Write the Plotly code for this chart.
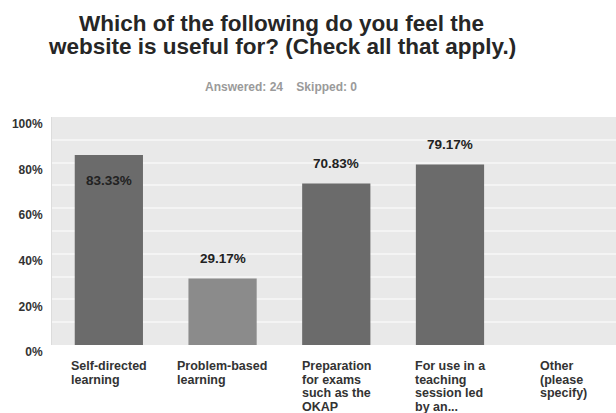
import plotly.graph_objects as go

categories = ["Self-directed<br>learning", "Problem-based<br>learning",
              "Preparation<br>for exams<br>such as the<br>OKAP",
              "For use in a<br>teaching<br>session led<br>by an...",
              "Other<br>(please<br>specify)"]
values = [83.33, 29.17, 70.83, 79.17, 0.0]
bar_colors = ["#6b6b6b", "#8b8b8b", "#6b6b6b", "#6b6b6b", "#6b6b6b"]
y_ticks = [0, 20, 40, 60, 80, 100]
y_tick_labels = ["0%", "20%", "40%", "60%", "80%", "100%"]
title_lines = ["Which of the following do you feel the",
               "website is useful for? (Check all that apply.)"]
subtitle_text = "Answered: 24&nbsp;&nbsp;&nbsp;&nbsp;Skipped: 0"

FONT = "Liberation Sans, Arial, sans-serif"
W, H = 616, 413
L, R, T, B = 52, 0, 117, 68
plot_h = H - T - B
plot_w = W - L - R

# approximate Arial Bold advance widths (per 1000 em) used to centre
# left-aligned multi-line category labels
_AW = {" ": 278, "(": 333, ")": 333, "-": 333, ".": 278, ":": 333}
_AW.update({c: w for c, w in zip("abcdefghijklmnopqrstuvwxyz",
            [556, 611, 556, 611, 556, 333, 611, 611, 278, 278, 556, 278, 889,
             611, 611, 611, 611, 389, 556, 333, 611, 556, 778, 556, 556, 500])})
_AW.update({c: w for c, w in zip("ABCDEFGHIJKLMNOPQRSTUVWXYZ",
            [722, 722, 722, 722, 667, 611, 778, 722, 278, 556, 722, 611, 833,
             722, 778, 667, 778, 722, 667, 611, 722, 667, 944, 667, 667, 611])})


def text_width(s, size):
    return sum(_AW.get(ch, 556) for ch in s) * size / 1000.0


x_idx = list(range(len(categories)))

fig = go.Figure()
fig.add_trace(go.Bar(
    x=x_idx, y=values, width=0.6,
    marker=dict(color=bar_colors, line=dict(width=0)),
    hoverinfo="skip",
))

annotations = []
# value labels
for i, v in enumerate(values):
    if v <= 0:
        continue
    inside = v > 80
    annotations.append(dict(
        x=i, y=v, xref="x", yref="y", text="%.2f%%" % v, showarrow=False,
        xanchor="center", yanchor="middle", yshift=-25 if inside else 20,
        font=dict(family=FONT, size=13.5, color="#222222", weight="bold"),
    ))

# category labels: block centred on the category, lines left aligned
CAT_SIZE = 12.5
for i, cat in enumerate(categories):
    lines = cat.split("<br>")
    block_w = max(text_width(s, CAT_SIZE) for s in lines)
    for k, line in enumerate(lines):
        annotations.append(dict(
            x=i, y=0, xref="x", yref="paper", text=line, showarrow=False,
            xanchor="left", yanchor="middle", xshift=-block_w / 2 - 2,
            yshift=-21 - 13.7 * k,
            font=dict(family=FONT, size=CAT_SIZE, color="#333333", weight="bold"),
        ))


def px_to_paper(xp, yp):
    return (xp - L) / plot_w, (H - B - yp) / plot_h


# title lines and subtitle
for line, ypx in zip(title_lines, [24, 47]):
    tx, ty = px_to_paper(281.5, ypx)
    annotations.append(dict(
        x=tx, y=ty, xref="paper", yref="paper",
        text=line, showarrow=False, xanchor="center", yanchor="middle",
        font=dict(family=FONT, size=22.5, color="#262626", weight="bold"),
    ))
sx, sy = px_to_paper(281, 87)
annotations.append(dict(
    x=sx, y=sy, xref="paper", yref="paper",
    text=subtitle_text, showarrow=False, xanchor="center", yanchor="middle",
    font=dict(family=FONT, size=12, color="#9a9a9a", weight="bold"),
))

fig.update_layout(
    width=W, height=H,
    margin=dict(l=L, r=R, t=T, b=B, pad=0),
    paper_bgcolor="white", plot_bgcolor="#e9e9e9",
    showlegend=False,
    annotations=annotations,
    xaxis=dict(range=[-0.5, 4.46], showticklabels=False, showgrid=False,
               zeroline=False, showline=False, fixedrange=True, automargin=False),
    yaxis=dict(range=[0, 100], tickvals=y_ticks, ticktext=y_tick_labels,
               showgrid=True, gridcolor="#f4f4f4", gridwidth=1.5,
               zeroline=False, showline=True, linecolor="#dcdcdc",
               linewidth=1, ticks="", ticklabelstandoff=6, ticklabelshift=7,
               tickfont=dict(family=FONT, size=12, color="#333333", weight="bold"),
               minor=dict(dtick=10, showgrid=True, gridcolor="#f4f4f4", gridwidth=1.5),
               fixedrange=True, automargin=False),
)

fig.write_html("out.html", config={"displayModeBar": False},
               post_script="document.body.style.margin='0';")
